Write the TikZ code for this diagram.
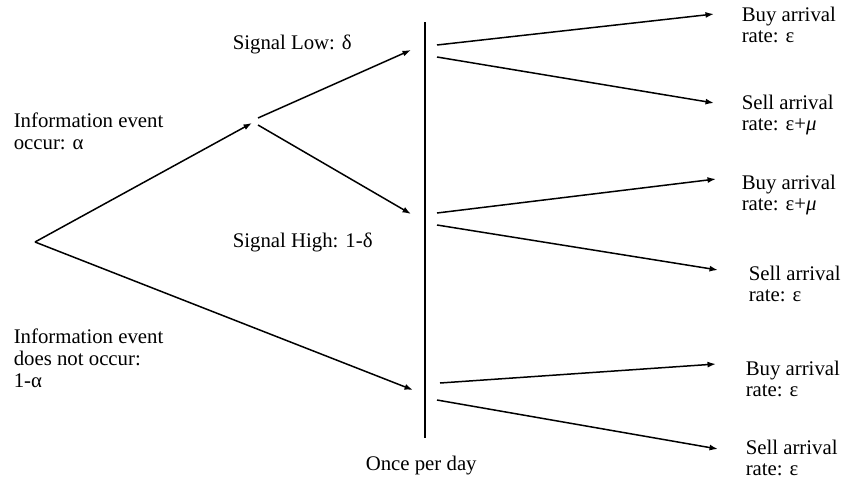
\documentclass[tikz,border=0pt]{standalone}
\usepackage{fontspec}
\setmainfont{Liberation Serif}
\usetikzlibrary{arrows.meta}

\begin{document}
\begin{tikzpicture}[x=1pt,y=-1pt,line width=1.5pt,>={Latex[length=8.5pt,width=6pt]},
  lbl/.style={anchor=west,align=left,inner sep=0pt,font=\fontsize{20.8}{21.8}\selectfont}]
  \useasboundingbox (0,0) rectangle (845,480);
  % branch points of the tree
  \coordinate (root) at (35,242);
  \coordinate (sig) at (252,123);
  \coordinate (sigA) at (258,118);
  \coordinate (sigB) at (258,125);
  \coordinate (low) at (411,50);
  \coordinate (high) at (411,214);
  \coordinate (none) at (413,390);
  % once per day line
  \coordinate (daytop) at (425,22);
  \coordinate (daybot) at (425,438);
  \draw[line width=1.1pt] (daytop) -- (daybot);
  % arrival ends
  \coordinate (lowA) at (437,45);   \coordinate (lowbuy) at (714,14);
  \coordinate (lowB) at (437,57);   \coordinate (lowsell) at (714,103);
  \coordinate (highA) at (437,213); \coordinate (highbuy) at (716,179);
  \coordinate (highB) at (437,225); \coordinate (highsell) at (718,270);
  \coordinate (noneA) at (440,383); \coordinate (nonebuy) at (716,364);
  \coordinate (noneB) at (437,400); \coordinate (nonesell) at (718,449);

  \draw[->] (root) -- (sig);
  \draw[->] (root) -- (none);
  \draw[->] (sigA) -- (low);
  \draw[->] (sigB) -- (high);
  \draw[->] (lowA) -- (lowbuy);
  \draw[->] (lowB) -- (lowsell);
  \draw[->] (highA) -- (highbuy);
  \draw[->] (highB) -- (highsell);
  \draw[->] (noneA) -- (nonebuy);
  \draw[->] (noneB) -- (nonesell);

  % labels
  \node[lbl] (occur) at (13,131) {Information event\\occur: α};
  \node[lbl] (notoccur) at (13,358) {Information event\\does not occur:\\1-α};
  \node[lbl] (siglow) at (232,44) {Signal Low: δ};
  \node[lbl] (sighigh) at (232,242) {Signal High: 1-δ};
  \node[lbl] (day) at (365,466) {Once per day};
  \node[lbl] (buy1) at (741,25) {Buy arrival\\rate: ε};
  \node[lbl] (sell1) at (741,115) {Sell arrival\\rate: ε+{\itshape μ}};
  \node[lbl] (buy2) at (741,195) {Buy arrival\\rate: ε+{\itshape μ}};
  \node[lbl] (sell2) at (748,284) {Sell arrival\\rate: ε};
  \node[lbl] (buy3) at (745,379) {Buy arrival\\rate: ε};
  \node[lbl] (sell3) at (745,458) {Sell arrival\\rate: ε};
\end{tikzpicture}
\end{document}
